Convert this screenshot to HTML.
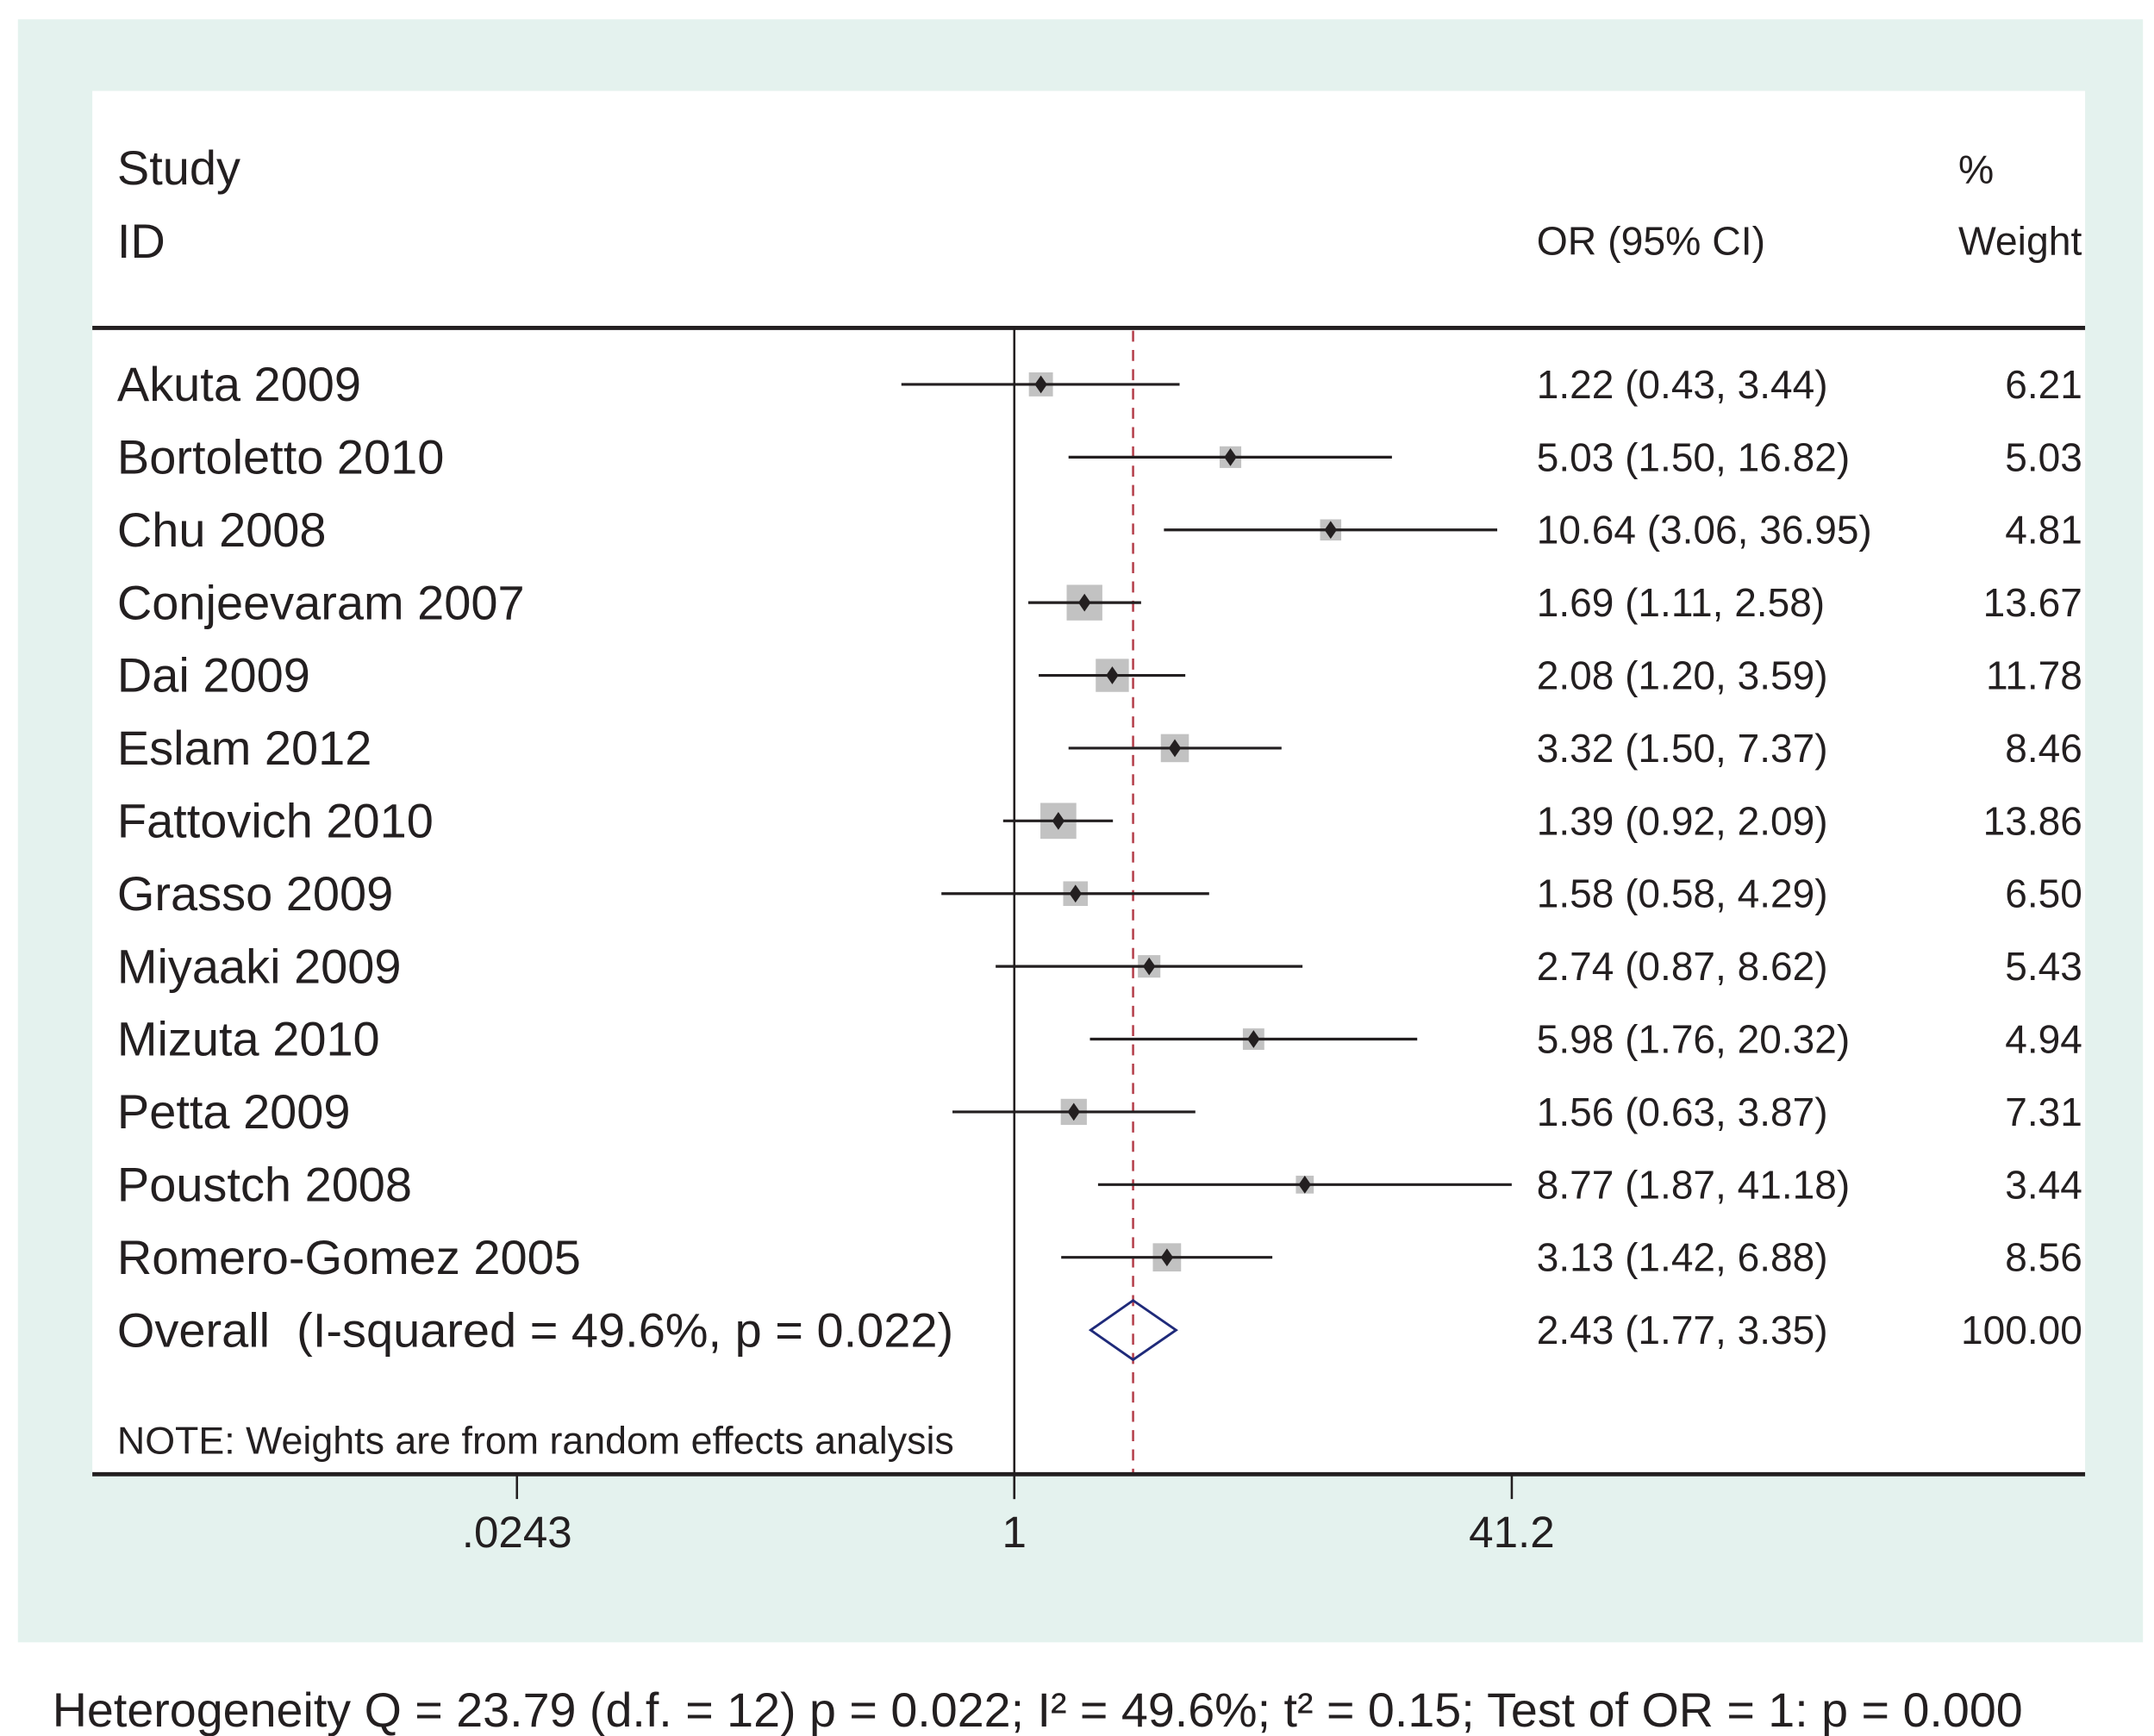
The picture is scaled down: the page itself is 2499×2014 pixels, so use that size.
<!DOCTYPE html>
<html><head><meta charset="utf-8"><style>
html,body{margin:0;padding:0;background:#fff;}
svg{display:block;font-family:"Liberation Sans",Arial,sans-serif;}
</style></head><body>
<svg id="chart" width="2499" height="2014" viewBox="0 0 1563 1260" preserveAspectRatio="none" xmlns="http://www.w3.org/2000/svg">
<rect x="13" y="14" width="1542" height="1178" fill="#e4f2ee"/>
<rect x="67" y="66" width="1446" height="1004" fill="#ffffff"/>
<text x="85" y="134" font-size="35" fill="#231f20">Study</text>
<text x="85" y="187" font-size="35" fill="#231f20">ID</text>
<text x="1421" y="133" font-size="29" fill="#231f20">%</text>
<text x="1115" y="185" font-size="29" fill="#231f20">OR (95% CI)</text>
<text x="1421" y="185" font-size="29" fill="#231f20">Weight</text>
<line x1="67" y1="238" x2="1513" y2="238" stroke="#231f20" stroke-width="3"/>
<g id="marks"></g>
<line x1="67" y1="1070" x2="1513" y2="1070" stroke="#231f20" stroke-width="3"/>
<g id="ticks"></g>
<text x="85" y="1055" font-size="28" fill="#231f20">NOTE: Weights are from random effects analysis</text>
<text x="38" y="1253" font-size="34.8" fill="#231f20">Heterogeneity Q = 23.79 (d.f. = 12) p = 0.022; I² = 49.6%; t² = 0.15; Test of OR = 1: p = 0.000</text>
</svg>
<script>
const studies = ["Akuta 2009","Bortoletto 2010","Chu 2008","Conjeevaram 2007","Dai 2009","Eslam 2012","Fattovich 2010","Grasso 2009","Miyaaki 2009","Mizuta 2010","Petta 2009","Poustch 2008","Romero-Gomez 2005"];
const orValues = [1.22,5.03,10.64,1.69,2.08,3.32,1.39,1.58,2.74,5.98,1.56,8.77,3.13];
const lowerCI = [0.43,1.50,3.06,1.11,1.20,1.50,0.92,0.58,0.87,1.76,0.63,1.87,1.42];
const upperCI = [3.44,16.82,36.95,2.58,3.59,7.37,2.09,4.29,8.62,20.32,3.87,41.18,6.88];
const weights = [6.21,5.03,4.81,13.67,11.78,8.46,13.86,6.50,5.43,4.94,7.31,3.44,8.56];
const ciLabels = ["1.22 (0.43, 3.44)","5.03 (1.50, 16.82)","10.64 (3.06, 36.95)","1.69 (1.11, 2.58)","2.08 (1.20, 3.59)","3.32 (1.50, 7.37)","1.39 (0.92, 2.09)","1.58 (0.58, 4.29)","2.74 (0.87, 8.62)","5.98 (1.76, 20.32)","1.56 (0.63, 3.87)","8.77 (1.87, 41.18)","3.13 (1.42, 6.88)"];
const weightLabels = ["6.21","5.03","4.81","13.67","11.78","8.46","13.86","6.50","5.43","4.94","7.31","3.44","8.56"];
const overall = [2.43,1.77,3.35];
const overallLabel = "2.43 (1.77, 3.35)";
const overallWeight = "100.00";
const tickValues = [0.0243,1,41.2];
const tickLabels = [".0243","1","41.2"];

const NS="http://www.w3.org/2000/svg";
const x0=736, pxPerLn=361/Math.log(41.2);
function xs(v){return x0+Math.log(v)*pxPerLn;}
function yr(i){return 279+i*52.8;}
function mk(tag,attrs,parent){const e=document.createElementNS(NS,tag);for(const k in attrs)e.setAttribute(k,attrs[k]);parent.appendChild(e);return e;}
const g=document.getElementById('marks');
const tg=document.getElementById('ticks');

let e=mk('line',{x1:x0,y1:238,x2:x0,y2:1088,stroke:'#231f20','stroke-width':1.6},g);


e=mk('line',{x1:xs(overall[0]),y1:240,x2:xs(overall[0]),y2:1070,stroke:'#b5404c','stroke-width':1.6,'stroke-dasharray':'8 6'},g);



studies.forEach((s,i)=>{
  const y=yr(i);
  const side=7*Math.sqrt(weights[i]);
  let b=mk('rect',{x:xs(orValues[i])-side/2,y:y-side/2,width:side,height:side,fill:'#c2c2c2'},g);
  
  
  let l=mk('line',{x1:xs(lowerCI[i]),y1:y,x2:xs(upperCI[i]),y2:y,stroke:'#231f20','stroke-width':2},g);
  
  
  const cx=xs(orValues[i]);
  let d=mk('polygon',{points:`${cx},${y-6.5} ${cx+4.5},${y} ${cx},${y+6.5} ${cx-4.5},${y}`,fill:'#231f20'},g);
  
  
  let t=mk('text',{x:85,y:y+12,'font-size':35,fill:'#231f20'},g);t.textContent=s;
  
  
  let c=mk('text',{x:1115,y:y+10,'font-size':28.8,fill:'#231f20'},g);c.textContent=ciLabels[i];
  
  
  let w=mk('text',{x:1511,y:y+10,'font-size':28.8,fill:'#231f20','text-anchor':'end'},g);w.textContent=weightLabels[i];
  
  
});
const oy=yr(studies.length);
let od=mk('polygon',{points:`${xs(overall[1])},${oy} ${xs(overall[0])},${oy-21.5} ${xs(overall[2])},${oy} ${xs(overall[0])},${oy+21.5}`,fill:'none',stroke:'#1f2a7a','stroke-width':1.8},g);


let ot=mk('text',{x:85,y:oy+12,'font-size':35,fill:'#231f20'},g);ot.textContent="Overall  (I-squared = 49.6%, p = 0.022)";


ot.style.whiteSpace='pre';
let oc=mk('text',{x:1115,y:oy+10,'font-size':28.8,fill:'#231f20'},g);oc.textContent=overallLabel;


let ow=mk('text',{x:1511,y:oy+10,'font-size':28.8,fill:'#231f20','text-anchor':'end'},g);ow.textContent=overallWeight;



tickValues.forEach((v,i)=>{
  const x=xs(v);
  let t=mk('line',{x1:x,y1:1070,x2:x,y2:1088,stroke:'#231f20','stroke-width':1.6},tg);
  
  
  let l=mk('text',{x:x,y:1123,'font-size':32,fill:'#231f20','text-anchor':'middle'},tg);l.textContent=tickLabels[i];
  
  
});
</script>
</body></html>
